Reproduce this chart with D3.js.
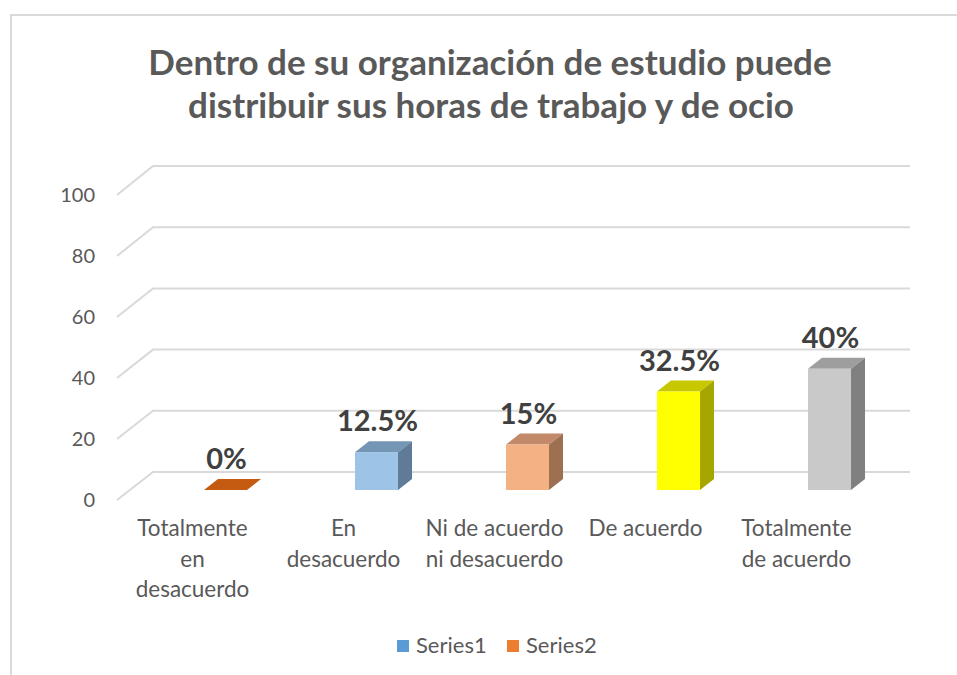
<!DOCTYPE html>
<html>
<head>
<meta charset="utf-8">
<script src="https://cdn.jsdelivr.net/npm/d3@7"></script>
<style>
  body{margin:0;background:#fff;}
  text{font-family:Lato,"Noto Sans",sans-serif;}
</style>
</head>
<body>
<div id="chart"></div>
<script>
// data
const categories=["Totalmente en desacuerdo","En desacuerdo","Ni de acuerdo ni desacuerdo","De acuerdo","Totalmente de acuerdo"]
const categoryLines=[["Totalmente","en","desacuerdo"],["En","desacuerdo"],["Ni de acuerdo","ni desacuerdo"],["De acuerdo"],["Totalmente","de acuerdo"]]
const values=[0,12.5,15,32.5,40]
const valueLabels=["0%","12.5%","15%","32.5%","40%"]
const yTicks=[0,20,40,60,80,100]
const legendNames=["Series1","Series2"]

// colours of each bar: front, top, side
const barFront=["#C55A11","#9DC3E6","#F4B183","#FFFF00","#C9C9C9"]
const barTop=["#C55A11","#7595B5","#C28A68","#C8C800","#9E9E9E"]
const barSide=["#A84D0F","#5F7B97","#9E7052","#A6A600","#808080"]
const legendColors=["#5B9BD5","#ED7D31"]

let width=957
let height=675
const svg=d3.select("#chart").append("svg").attr("width",width).attr("height",height)

// chart border (cut on the right and the bottom like the screenshot)
svg.append("rect").attr("x",11).attr("y",15).attr("width",980).attr("height",700)
  .attr("fill","none").attr("stroke","#D9D9D9").attr("stroke-width",2)

// title
const title=svg.append("text").attr("text-anchor","middle").attr("fill","#595959")
  .attr("font-size",35).attr("font-weight","bold")
title.append("tspan").attr("x",490).attr("y",75).text("Dentro de su organización de estudio puede")
title.append("tspan").attr("x",491).attr("y",118).text("distribuir sus horas de trabajo y de ocio")

// the chart is a fake 3d, so we need a scale for the back wall, one for the front edge and one for the bars
const yBack=d3.scaleLinear().domain([0,100]).range([472,166])
const yFront=d3.scaleLinear().domain([0,100]).range([500,195])
const yBar=d3.scaleLinear().domain([0,100]).range([490,187])
const xScale=d3.scaleBand().domain(categories).range([150,905])

let depthX=14, depthY=-11
let frontShift=-36
let barW=xScale.bandwidth()*0.285

// gridlines: diagonal on the floor side then flat along the wall
svg.append("g").selectAll("path").data(yTicks).enter().append("path")
  .attr("d",d=>`M${150+frontShift+3},${yFront(d)} L153,${yBack(d)} L910,${yBack(d)}`)
  .attr("fill","none").attr("stroke","#D9D9D9").attr("stroke-width",2)

svg.append("g").selectAll("text").data(yTicks).enter().append("text")
  .attr("x",95).attr("y",d=>yFront(d)+7).attr("text-anchor","end")
  .attr("font-size",20).attr("fill","#595959").text(d=>d)

// bars
const bars=svg.append("g").selectAll("g").data(values).enter().append("g")
bars.each(function(v,i){
  let g=d3.select(this)
  let x0=xScale(categories[i])+xScale.bandwidth()/2-barW/2
  let x1=x0+barW
  let yb=yBar(0), yt=yBar(v)
  // top face
  g.append("path").attr("d",`M${x0},${yt} L${x0+depthX},${yt+depthY} L${x1+depthX},${yt+depthY} L${x1},${yt} Z`).attr("fill",barTop[i])
  if(v>0){
    g.append("path").attr("d",`M${x1},${yb} L${x1},${yt} L${x1+depthX},${yt+depthY} L${x1+depthX},${yb+depthY} Z`).attr("fill",barSide[i])
    g.append("rect").attr("x",x0).attr("y",yt).attr("width",barW).attr("height",yb-yt).attr("fill",barFront[i])
  }
})

// data labels
svg.append("g").selectAll("text").data(values).enter().append("text")
  .attr("x",(d,i)=>xScale(categories[i])+xScale.bandwidth()/2+1)
  .attr("y",d=>yBar(d)-21).attr("text-anchor","middle")
  .attr("font-size",29).attr("font-weight","bold").attr("fill","#404040")
  .text((d,i)=>valueLabels[i])

// category labels, they sit at the front so they are shifted to the left
const cat=svg.append("g").selectAll("text").data(categoryLines).enter().append("text")
  .attr("text-anchor","middle").attr("font-size",22.5).attr("fill","#595959")
cat.each(function(lines,i){
  let cx=xScale(categories[i])+xScale.bandwidth()/2-33
  d3.select(this).selectAll("tspan").data(lines).enter().append("tspan")
    .attr("x",cx).attr("y",(d,j)=>536+j*30.5).text(d=>d)
})

// legend
const legend=svg.append("g").selectAll("g").data(legendNames).enter().append("g")
  .attr("transform",(d,i)=>`translate(${397+i*110},640)`)
legend.append("rect").attr("width",12).attr("height",12).attr("fill",(d,i)=>legendColors[i])
legend.append("text").attr("x",19).attr("y",13).attr("font-size",22).attr("fill","#595959").text(d=>d)
</script>
</body>
</html>
